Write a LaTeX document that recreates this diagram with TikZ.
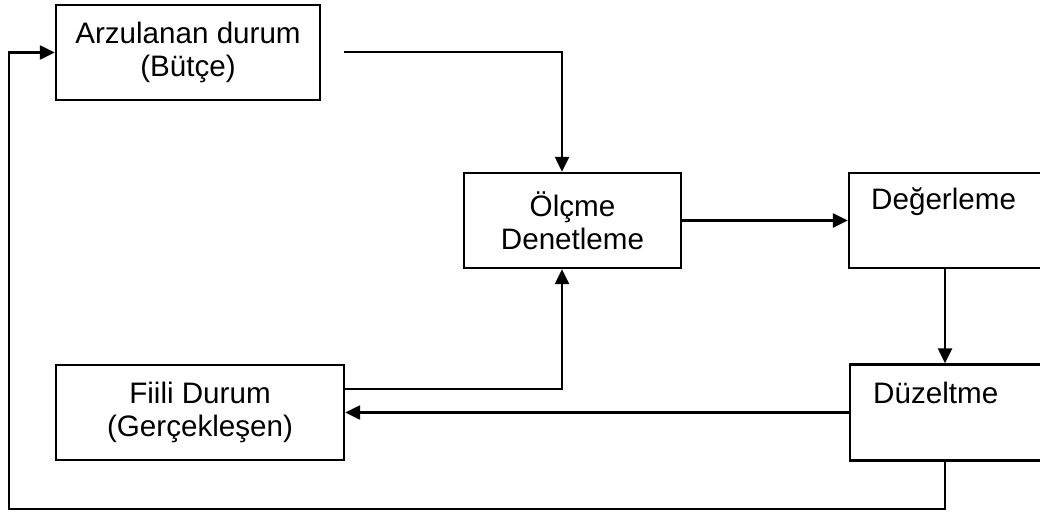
\documentclass[tikz,border=0pt]{standalone}
\usepackage{fontspec}
\setmainfont{Liberation Sans}
\usetikzlibrary{arrows.meta}
\begin{document}
\begin{tikzpicture}[x=1pt,y=-1pt,
  box/.style={draw, line width=2.4pt, inner sep=0pt, align=center,
    font=\fontsize{29.6}{33}\selectfont},
  lbl/.style={inner sep=0pt, anchor=west, font=\fontsize{29.6}{33}\selectfont},
  conn/.style={line width=2.4pt, -{Triangle[length=15pt,width=14pt]}}]
\clip (0,0) rectangle (1040,513);
\node[box, minimum width=264pt, minimum height=95pt] (arz) at (188,52.5) {Arzulanan durum\\(Bütçe)};
\node[box, minimum width=217pt, minimum height=95pt] (olc) at (572.5,220.5) {Ölçme\\Denetleme};
\node[box, minimum width=201pt, minimum height=95pt] (deg) at (949.5,220.5) {};
\node[lbl] (degt) at (871,202) {Değerleme};
\node[box, minimum width=288pt, minimum height=95pt] (fii) at (200,412.5) {Fiili Durum\\(Gerçekleşen)};
\node[box, minimum width=200pt, minimum height=96pt] (duz) at (950,412.5) {};
\node[lbl] (duzt) at (873,393) {Düzeltme};
\coordinate (a1) at (344,52);
\coordinate (lb) at (9,509);
\draw[conn] (a1) -| ([xshift=-10.5pt]olc.north);
\draw[conn] (olc.east) -- (deg.west);
\draw[conn] ([xshift=-4.5pt]deg.south) -- ([xshift=-4.5pt]deg.south |- duz.north);
\draw[conn] (duz.west) -- (fii.east);
\draw[conn] ([yshift=23.5pt]fii.east) -| ([xshift=-10.5pt]olc.south);
\draw[conn] ([xshift=-5pt]duz.south) |- (lb) |- (arz.west);
\end{tikzpicture}
\end{document}
